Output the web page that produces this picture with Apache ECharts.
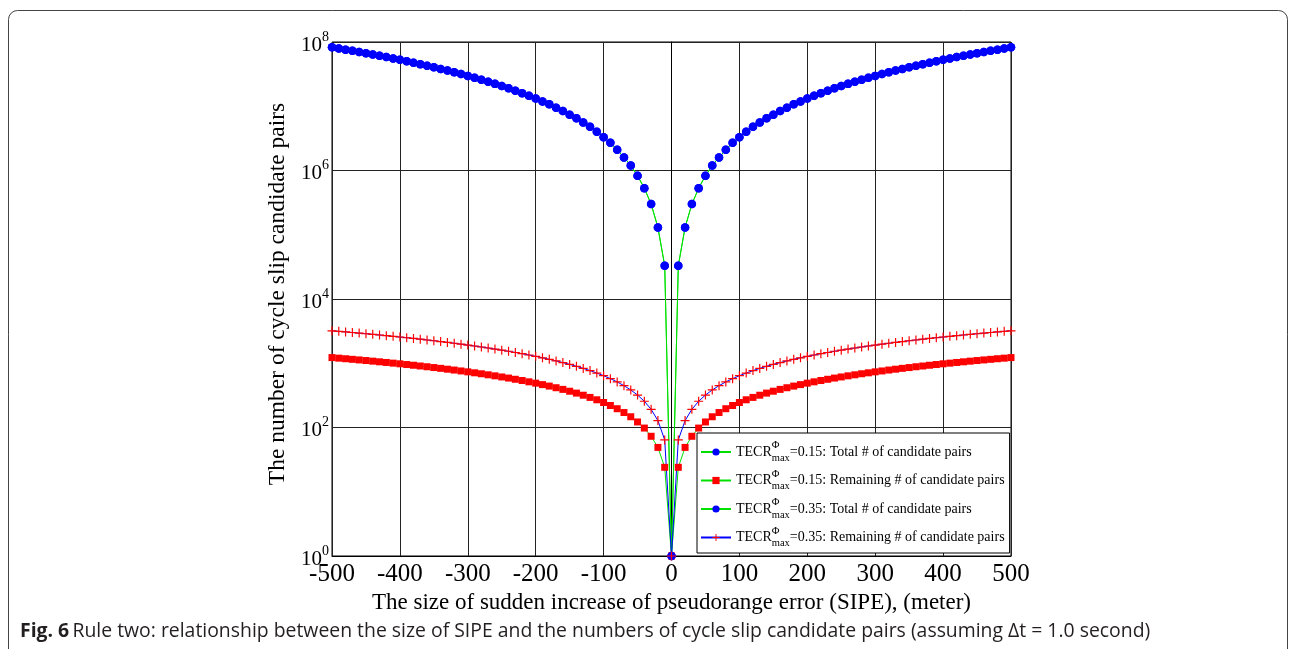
<!DOCTYPE html>
<html>
<head>
<meta charset="utf-8">
<script src="https://cdn.jsdelivr.net/npm/echarts@6/dist/echarts.min.js"></script>
<style>
  html, body { margin: 0; padding: 0; background: #fff; }
  #chart { width: 1290px; height: 649px; }
</style>
</head>
<body>
<div id="chart"></div>
<script>
// SIPE size (meter), one point every 10 m
const sipe = [
  -500, -490, -480, -470, -460, -450, -440, -430, -420, -410,
  -400, -390, -380, -370, -360, -350, -340, -330, -320, -310,
  -300, -290, -280, -270, -260, -250, -240, -230, -220, -210,
  -200, -190, -180, -170, -160, -150, -140, -130, -120, -110,
  -100, -90, -80, -70, -60, -50, -40, -30, -20, -10,
  0,
  10, 20, 30, 40, 50, 60, 70, 80, 90, 100,
  110, 120, 130, 140, 150, 160, 170, 180, 190, 200,
  210, 220, 230, 240, 250, 260, 270, 280, 290, 300,
  310, 320, 330, 340, 350, 360, 370, 380, 390, 400,
  410, 420, 430, 440, 450, 460, 470, 480, 490, 500
];

// total # of candidate pairs (same for both TECR values)
const totalPairs = [
  8.25e7, 7.92e7, 7.60e7, 7.29e7, 6.98e7, 6.68e7, 6.39e7, 6.10e7, 5.82e7, 5.55e7,
  5.28e7, 5.02e7, 4.77e7, 4.52e7, 4.28e7, 4.04e7, 3.81e7, 3.59e7, 3.38e7, 3.17e7,
  2.97e7, 2.78e7, 2.59e7, 2.41e7, 2.23e7, 2.06e7, 1.90e7, 1.75e7, 1.60e7, 1.46e7,
  1.32e7, 1.19e7, 1.07e7, 9.5e6, 8.4e6, 7.4e6, 6.5e6, 5.6e6, 4.8e6, 4.0e6,
  3.3e6, 2.7e6, 2.1e6, 1.6e6, 1.2e6, 8.3e5, 5.3e5, 3.0e5, 1.3e5, 3.3e4,
  1,
  3.3e4, 1.3e5, 3.0e5, 5.3e5, 8.3e5, 1.2e6, 1.6e6, 2.1e6, 2.7e6, 3.3e6,
  4.0e6, 4.8e6, 5.6e6, 6.5e6, 7.4e6, 8.4e6, 9.5e6, 1.07e7, 1.19e7, 1.32e7,
  1.46e7, 1.60e7, 1.75e7, 1.90e7, 2.06e7, 2.23e7, 2.41e7, 2.59e7, 2.78e7, 2.97e7,
  3.17e7, 3.38e7, 3.59e7, 3.81e7, 4.04e7, 4.28e7, 4.52e7, 4.77e7, 5.02e7, 5.28e7,
  5.55e7, 5.82e7, 6.10e7, 6.39e7, 6.68e7, 6.98e7, 7.29e7, 7.60e7, 7.92e7, 8.25e7
];

// remaining # of candidate pairs, TECR = 0.15
const remaining015 = [
  1225, 1200, 1176, 1151, 1127, 1102, 1078, 1053, 1029, 1004,
  980, 955, 931, 906, 882, 857, 833, 808, 784, 759,
  735, 710, 686, 661, 637, 612, 588, 563, 539, 514,
  490, 465, 441, 416, 392, 367, 343, 318, 294, 270,
  245, 220, 196, 171, 147, 122, 98, 73, 49, 24,
  1,
  24, 49, 73, 98, 122, 147, 171, 196, 220, 245,
  270, 294, 318, 343, 367, 392, 416, 441, 465, 490,
  514, 539, 563, 588, 612, 637, 661, 686, 710, 735,
  759, 784, 808, 833, 857, 882, 906, 931, 955, 980,
  1004, 1029, 1053, 1078, 1102, 1127, 1151, 1176, 1200, 1225
];

// remaining # of candidate pairs, TECR = 0.35
const remaining035 = [
  3200, 3136, 3072, 3008, 2944, 2880, 2816, 2752, 2688, 2624,
  2560, 2496, 2432, 2368, 2304, 2240, 2176, 2112, 2048, 1984,
  1920, 1856, 1792, 1728, 1664, 1600, 1536, 1472, 1408, 1344,
  1280, 1216, 1152, 1088, 1024, 960, 896, 832, 768, 704,
  640, 576, 512, 448, 384, 320, 256, 192, 128, 64,
  1,
  64, 128, 192, 256, 320, 384, 448, 512, 576, 640,
  704, 768, 832, 896, 960, 1024, 1088, 1152, 1216, 1280,
  1344, 1408, 1472, 1536, 1600, 1664, 1728, 1792, 1856, 1920,
  1984, 2048, 2112, 2176, 2240, 2304, 2368, 2432, 2496, 2560,
  2624, 2688, 2752, 2816, 2880, 2944, 3008, 3072, 3136, 3200
];

const seriesNames = [
  "0.15: Total # of candidate pairs",
  "0.15: Remaining # of candidate pairs",
  "0.35: Total # of candidate pairs",
  "0.35: Remaining # of candidate pairs"
];

const serif = "'Liberation Serif', 'Times New Roman', serif";
const crossPath = "path://M4.35,0H5.65V4.35H10V5.65H5.65V10H4.35V5.65H0V4.35H4.35Z";

function pairs(ys) {
  return sipe.map((x, i) => [x, ys[i]]);
}

const chart = echarts.init(document.getElementById("chart"));

chart.setOption({
  animation: false,
  backgroundColor: "#fff",
  grid: {
    left: 332,
    right: 279,
    top: 42,
    bottom: 93,
    show: true,
    borderColor: "#000",
    borderWidth: 1
  },
  xAxis: {
    type: "value",
    min: -500,
    max: 500,
    interval: 100,
    name: "The size of sudden increase of pseudorange error (SIPE), (meter)",
    nameLocation: "middle",
    nameGap: 27,
    nameTextStyle: { fontFamily: serif, fontSize: 23, color: "#000" },
    axisLine: { lineStyle: { color: "#000", width: 1 } },
    axisTick: { show: false },
    axisLabel: { fontFamily: serif, fontSize: 25, color: "#000", margin: 6 },
    splitLine: { show: true, lineStyle: { color: "#222", width: 1 } }
  },
  yAxis: {
    type: "log",
    logBase: 10,
    min: 1,
    max: 1e8,
    interval: 2,
    name: "The number of cycle slip candidate pairs",
    nameLocation: "middle",
    nameGap: 38,
    nameTextStyle: { fontFamily: serif, fontSize: 23.5, color: "#000", padding: [0, 0, 0, 10] },
    axisLine: { lineStyle: { color: "#000", width: 1 } },
    axisTick: { show: false },
    minorTick: { show: false },
    axisLabel: {
      margin: 3,
      formatter: v => "{b|10}{s|" + Math.round(Math.log10(v)) + "}",
      rich: {
        b: { fontFamily: serif, fontSize: 21, color: "#000", padding: [6, 0, 0, 0] },
        s: { fontFamily: serif, fontSize: 14, color: "#000", padding: [0, 0, 10, 0] }
      }
    },
    splitLine: { show: true, lineStyle: { color: "#222", width: 1 } }
  },
  legend: {
    orient: "vertical",
    left: 697,
    top: 433,
    backgroundColor: "#fff",
    borderColor: "#000",
    borderWidth: 1,
    padding: [7, 5, 4, 3],
    itemGap: 5,
    itemWidth: 30,
    itemHeight: 9,
    data: seriesNames,
    formatter: name => "{a|TECR}{p|Φ}{m|max}{a|=" + name + "}",
    textStyle: {
      rich: {
        a: { fontFamily: serif, fontSize: 14, color: "#000" },
        p: { fontFamily: serif, fontSize: 10.5, color: "#000", width: 0, padding: [0, 0, 13, 0] },
        m: { fontFamily: serif, fontSize: 10.5, color: "#000", padding: [12, 0, 0, 0] }
      }
    }
  },
  series: [
    {
      name: seriesNames[0],
      type: "line",
      data: pairs(totalPairs),
      symbol: "circle",
      symbolSize: 8.5,
      lineStyle: { color: "#00e000", width: 1 },
      itemStyle: { color: "#0000ff" }
    },
    {
      name: seriesNames[1],
      type: "line",
      data: pairs(remaining015),
      symbol: "rect",
      symbolSize: 7,
      lineStyle: { color: "#00e000", width: 1 },
      itemStyle: { color: "#ff0000" }
    },
    {
      name: seriesNames[2],
      type: "line",
      data: pairs(totalPairs),
      symbol: "circle",
      symbolSize: 8.5,
      lineStyle: { color: "#00e000", width: 1 },
      itemStyle: { color: "#0000ff" }
    },
    {
      name: seriesNames[3],
      type: "line",
      data: pairs(remaining035),
      symbol: crossPath,
      symbolSize: 9,
      lineStyle: { color: "#0000ff", width: 1 },
      itemStyle: { color: "#ff0000" }
    }
  ],
  graphic: [
    {
      type: "rect",
      silent: true,
      shape: { x: 8.5, y: 10.5, width: 1279, height: 700, r: 9 },
      style: { fill: null, stroke: "#444", lineWidth: 1 }
    },
    {
      type: "text",
      left: 20,
      top: 622,
      style: {
        text: "{b|Fig. 6} {r|Rule two: relationship between the size of SIPE and the numbers of cycle slip candidate pairs (assuming Δt = 1.0 second)}",
        rich: {
          b: { fontFamily: "'Open Sans', sans-serif", fontSize: 19.4, fontWeight: "bold", fill: "#231f20" },
          r: { fontFamily: "'Open Sans', sans-serif", fontSize: 19.4, fill: "#231f20" }
        }
      }
    }
  ]
});
</script>
</body>
</html>
